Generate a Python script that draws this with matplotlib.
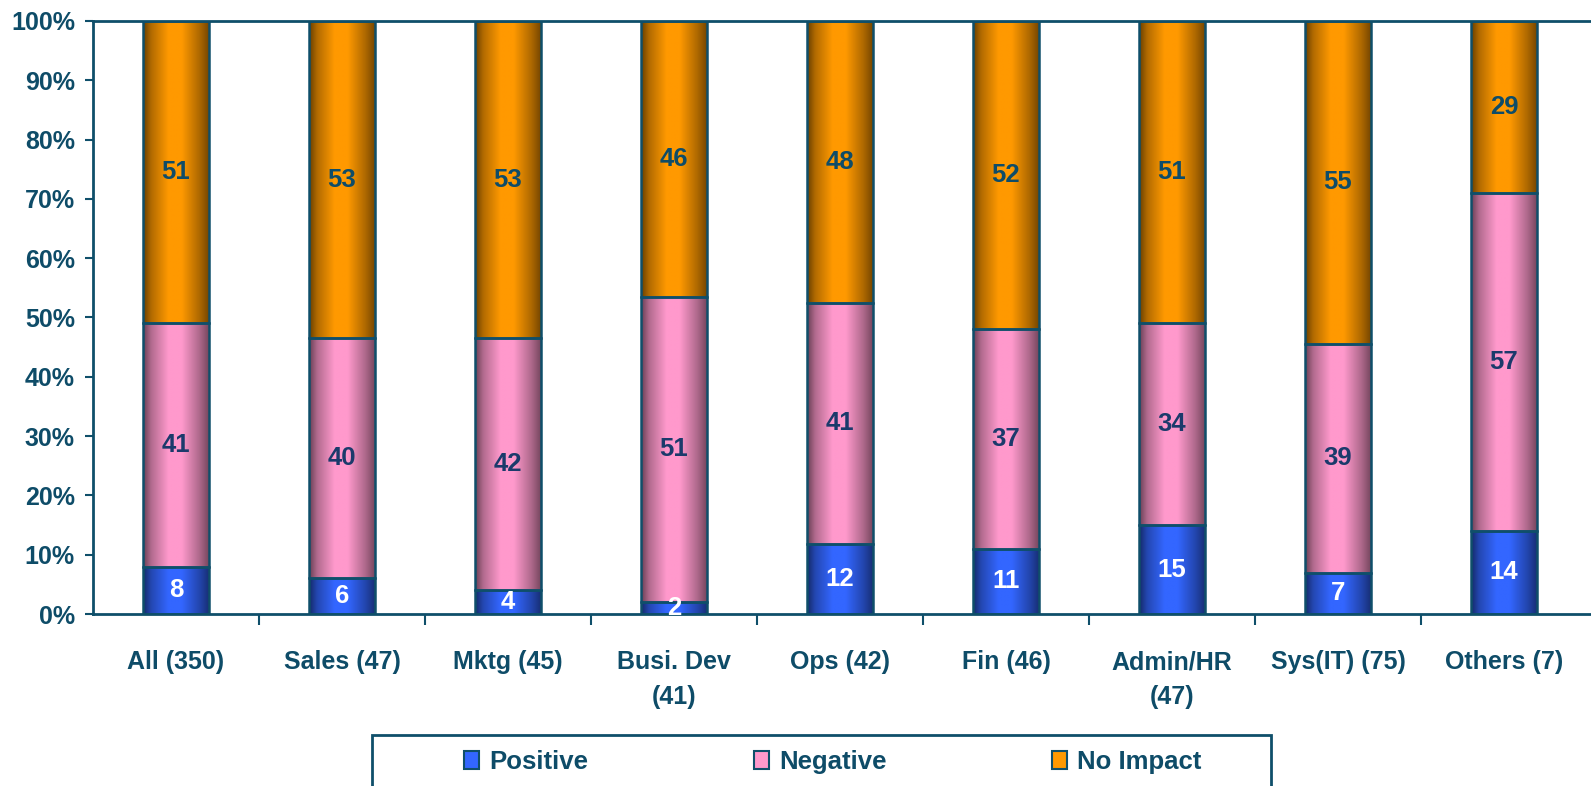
import numpy as np
import matplotlib
matplotlib.use("Agg")
import matplotlib.pyplot as plt
from matplotlib.patches import Rectangle, Patch
from matplotlib.ticker import PercentFormatter, FixedLocator, NullFormatter

plt.rcParams['font.family'] = ['Liberation Sans', 'DejaVu Sans']
plt.rcParams['font.weight'] = 'bold'

# survey results per department (rounded percentages)
categories = ['All (350)', 'Sales (47)', 'Mktg (45)', 'Busi. Dev\n(41)', 'Ops (42)',
              'Fin (46)', 'Admin/HR\n(47)', 'Sys(IT) (75)', 'Others (7)']
positive = [8, 6, 4, 2, 12, 11, 15, 7, 14]
negative = [41, 40, 42, 51, 41, 37, 34, 39, 57]
no_impact = [51, 53, 53, 46, 48, 52, 51, 55, 29]

series_names = ['Positive', 'Negative', 'No Impact']
series_colors = ['#3366FF', '#FF99CC', '#FF9900']
label_colors = ['white', '#1B3A6B', '#0E4C68']

teal = '#0E4C68'
edge = '#0F4F6A'

fig = plt.figure(figsize=(15.91, 7.86), dpi=100)
ax = fig.add_axes([93 / 1591, 172 / 786, 1 - 93 / 1591, 593 / 786])

data = np.array([positive, negative, no_impact], dtype=float)
totals = data.sum(axis=0)
shares = data / totals
x = np.arange(len(categories))
width = 0.4


def shade(color, n=64):
    # cylinder-like shading across the bar width
    t = np.linspace(0, 1, n)
    f = np.interp(t, [0, 0.12, 0.38, 0.58, 0.85, 1], [0.42, 0.7, 1.0, 1.0, 0.68, 0.45])
    rgb = np.array(matplotlib.colors.to_rgb(color))
    return (rgb[None, :] * f[:, None])[None, :, :]


bottom = np.zeros(len(categories))
for k in range(3):
    bars = ax.bar(x, shares[k], width, bottom=bottom, facecolor='none',
                  edgecolor=edge, linewidth=1.8, zorder=3)
    img = shade(series_colors[k])
    for bar, val, b, s in zip(bars, data[k], bottom, shares[k]):
        x0 = bar.get_x()
        ax.imshow(img, extent=(x0, x0 + width, b, b + s), aspect='auto',
                  interpolation='bilinear', zorder=2)
        ax.text(x0 + width / 2, b + s / 2, f'{val:.0f}', ha='center', va='center',
                color=label_colors[k], fontsize=18.5, fontweight='bold', zorder=4)
    bottom += shares[k]

ax.set_xlim(-0.5, -0.5 + 1498 / 166)
ax.set_ylim(0, 1)

ax.yaxis.set_major_locator(FixedLocator(np.linspace(0, 1, 11)))
ax.yaxis.set_major_formatter(PercentFormatter(1.0, decimals=0))
ax.tick_params(axis='y', direction='out', length=6, width=1.5, color=edge,
               labelsize=18, labelcolor=teal, pad=7)

ax.set_xticks(x)
ax.set_xticklabels(categories, fontsize=18, color=teal, linespacing=1.55)
ax.xaxis.set_minor_locator(FixedLocator(x[:-1] + 0.5))
ax.xaxis.set_minor_formatter(NullFormatter())
ax.tick_params(axis='x', which='major', length=0, pad=26)
ax.tick_params(axis='x', which='minor', direction='out', length=8, width=1.5, color=edge)

for side in ['left', 'bottom', 'top']:
    ax.spines[side].set_color(edge)
    ax.spines[side].set_linewidth(2)
ax.spines['right'].set_visible(False)

# legend frame runs off the bottom of the figure
fig.patches.append(Rectangle((372 / 1591, -0.1), (1271 - 372) / 1591, 1 - 735 / 786 + 0.1,
                             transform=fig.transFigure, facecolor='white',
                             edgecolor=edge, linewidth=2))
handles = [Patch(facecolor=c, edgecolor=edge, linewidth=1.5) for c in series_colors]
leg = fig.legend(handles, series_names, loc='center left', ncol=3, frameon=False,
                 bbox_to_anchor=(451 / 1591, 1 - 762 / 786), borderpad=0,
                 handlelength=0.6, handleheight=0.65, handletextpad=0.4,
                 columnspacing=6.42, prop={'size': 18.5, 'weight': 'bold'})
for t in leg.get_texts():
    t.set_color(teal)

fig.savefig('out.png', dpi=100)
